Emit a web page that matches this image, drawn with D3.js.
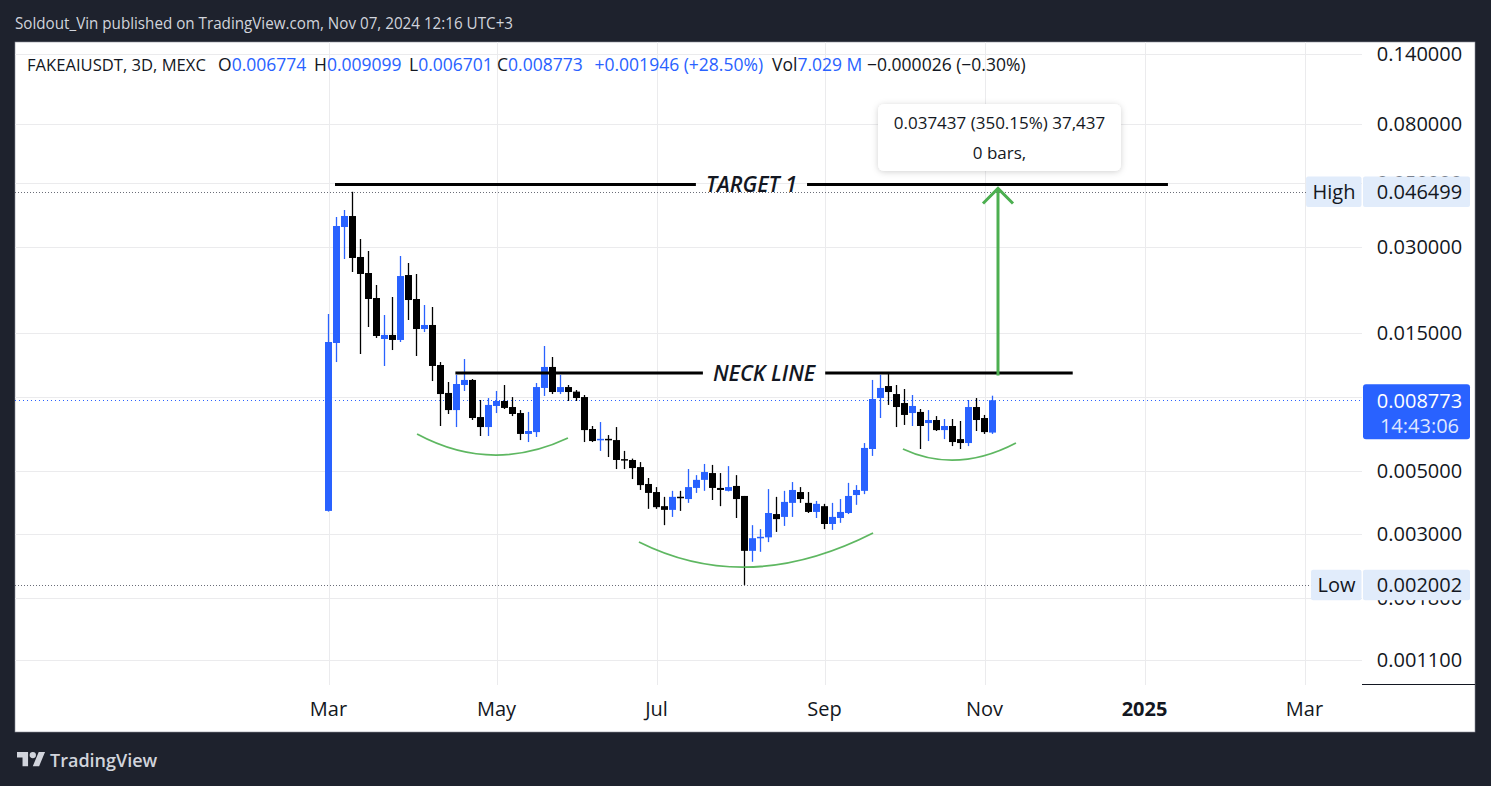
<!DOCTYPE html>
<html><head><meta charset="utf-8">
<script src="https://cdn.jsdelivr.net/npm/d3@7"></script>
<style>
html,body{margin:0;padding:0;background:#1e222d;}
svg{display:block;}
text{font-family:"Open Sans","Noto Sans",sans-serif;}
</style></head><body>
<svg id="chart" width="1491" height="786"></svg>
<script>
// ---------- DATA ----------
const barStart = "2024-03-01T00:00:00Z";
const barDays = 3;
const opens  = [0.00362,0.01387,0.03508,0.0383,0.0276,0.02428,0.01988,0.01432,0.01479,0.01421,
  0.02389,0.01972,0.01551,0.01602,0.01163,0.0093,0.00811,0.00991,0.01032,0.00767,
  0.00708,0.00838,0.00872,0.00831,0.00792,0.0067,0.0068,0.00968,0.01145,0.00937,
  0.00975,0.0094,0.009,0.00697,0.00638,0.00643,0.00638,0.00546,0.00544,0.00514,
  0.00449,0.00421,0.00376,0.00365,0.00405,0.00398,0.00435,0.00464,0.0049,0.00435,
  0.00425,0.00442,0.00408,0.00263,0.00291,0.00293,0.00353,0.00345,0.00386,0.00421,
  0.00386,0.00359,0.00376,0.00326,0.00342,0.00356,0.00411,0.00425,0.00594,0.00893,
  0.00983,0.00922,0.00858,0.00792,0.00799,0.00731,0.00749,0.00691,0.00714,0.00643,
  0.00623,0.00831,0.00761,0.006774];
const highs  = [0.01749,0.0380,0.04019,0.046499,0.03187,0.02895,0.02206,0.01735,0.02004,0.02782,
  0.0263,0.02409,0.0188,0.0185,0.01191,0.01015,0.01074,0.0122,0.0104,0.00879,
  0.00893,0.00945,0.00991,0.009,0.00811,0.00799,0.01007,0.01354,0.0124,0.01074,
  0.00991,0.00952,0.00915,0.00714,0.00737,0.00664,0.00708,0.00585,0.0055,0.00535,
  0.00471,0.00438,0.00405,0.00425,0.00425,0.00506,0.00482,0.00527,0.00523,0.0049,
  0.00518,0.00482,0.00408,0.00323,0.00313,0.00431,0.00405,0.00425,0.00456,0.00438,
  0.00421,0.00392,0.00383,0.00386,0.00398,0.00453,0.00445,0.00623,0.01032,0.01075,
  0.01082,0.00991,0.0096,0.00915,0.00818,0.00811,0.00773,0.00755,0.00755,0.00743,
  0.00879,0.00893,0.0078,0.009099];
const lows   = [0.0036,0.01191,0.02716,0.02447,0.0127,0.01576,0.01444,0.01154,0.01311,0.01398,
  0.01667,0.0125,0.01514,0.01023,0.00714,0.00786,0.00708,0.00945,0.00749,0.00659,
  0.00659,0.00792,0.00818,0.00773,0.00638,0.00628,0.00654,0.00908,0.00922,0.00922,
  0.00872,0.00872,0.00628,0.00628,0.00585,0.00557,0.00506,0.00506,0.00467,0.00428,
  0.00368,0.00368,0.00323,0.00345,0.00362,0.00386,0.00418,0.00425,0.00395,0.00376,
  0.00423,0.00342,0.002002,0.00241,0.00261,0.00282,0.00306,0.00321,0.00345,0.00386,
  0.00356,0.00342,0.00313,0.00311,0.00329,0.00353,0.0038,0.00414,0.00562,0.00761,
  0.00845,0.00708,0.0072,0.00714,0.00594,0.00633,0.00686,0.00643,0.00608,0.00594,
  0.00608,0.00686,0.0067,0.006701];
const closes = [0.01398,0.03536,0.03831,0.02738,0.02409,0.01972,0.01467,0.01479,0.01421,0.0237,
  0.01956,0.01551,0.01602,0.01154,0.00922,0.00811,0.00999,0.01032,0.00761,0.00708,
  0.00845,0.00872,0.00825,0.00786,0.0067,0.00686,0.00975,0.01145,0.00937,0.00975,
  0.00937,0.00893,0.00691,0.00633,0.00643,0.00638,0.00544,0.00543,0.0051,0.00445,
  0.00418,0.00373,0.00365,0.00405,0.00401,0.00438,0.00464,0.00494,0.00435,0.00428,
  0.00438,0.00398,0.00263,0.00291,0.00294,0.00356,0.00339,0.00389,0.00428,0.00398,
  0.00359,0.00383,0.00326,0.00345,0.00359,0.00408,0.00428,0.00599,0.00886,0.00968,
  0.00937,0.00831,0.0078,0.00838,0.00714,0.00749,0.00691,0.00714,0.00628,0.00623,
  0.00831,0.00749,0.0068,0.008773];

const priceTicks = [0.14,0.08,0.05,0.03,0.015,0.009,0.005,0.003,0.0018,0.0011];
const hiddenTickLabels = [0.009]; // fully covered by the last-price label in the reference
const monthStarts = ["2024-03-01","2024-05-01","2024-07-01","2024-09-01","2024-11-01","2025-01-01","2025-03-01"];
const monthLabels = ["Mar","May","Jul","Sep","Nov","2025","Mar"];
const monthBold   = [false,false,false,false,false,true,false];

const lastPrice = 0.008773, lastCountdown = "14:43:06";
const highPrice = 0.046499, lowPrice = 0.002002;

const headerText = "Soldout_Vin published on TradingView.com, Nov 07, 2024 12:16 UTC+3";
const symbolText = "FAKEAIUSDT, 3D, MEXC";
const ohlcLetters = ["O","H","L","C"];
const ohlcValues  = ["0.006774","0.009099","0.006701","0.008773"];
const changeText = "+0.001946 (+28.50%)";
const volLabel = "Vol", volValue = "7.029 M";
const volChange = "\u22120.000026 (\u22120.30%)";

const targetLine = {from:"2024-03-03T10:30:00Z", to:"2025-01-09T19:00:00Z", price:0.0493, label:"TARGET 1"};
const neckLine   = {from:"2024-04-17T14:00:00Z", to:"2024-12-05T02:00:00Z", price:0.0109, label:"NECK LINE"};
const arrowMove  = {date:"2024-11-07T01:30:00Z", from:0.010692, to:0.048129};
const measureLines = ["0.037437 (350.15%) 37,437","0 bars,"];
const arcs = [
  [["2024-04-03T05:00:00Z",0.006697],["2024-05-01T07:00:00Z",0.005661],["2024-05-29T19:00:00Z",0.006486]],
  [["2024-06-25T10:00:00Z",0.002822],["2024-08-06T19:00:00Z",0.002311],["2024-09-21T05:00:00Z",0.003033]],
  [["2024-10-02T10:00:00Z",0.00594],["2024-10-23T02:00:00Z",0.005439],["2024-11-13T19:00:00Z",0.006232]]
];

// ---------- LAYOUT ----------
const svg = d3.select("#chart");
const P = {x:15, y:42, w:1460, h:690};
const plotR = 1362, plotB = 685;
const UP = "#2962ff", DOWN = "#000000", GREEN = "#4caf50", TXT = "#131722";

const t0 = new Date(barStart);
const x = d3.scaleUtc()
  .domain([t0, d3.utcDay.offset(t0, 365)])
  .range([328.5, 328.5 + 365*8/3]);
const y = d3.scaleLog().domain([0.0011, 0.14]).range([659.8, 54]);

const bars = opens.map((o,i)=>({date:d3.utcDay.offset(t0, barDays*i), o, h:highs[i], l:lows[i], c:closes[i]}));

const defs = svg.append("defs");
defs.append("clipPath").attr("id","plotclip").append("rect")
  .attr("x",P.x).attr("y",P.y).attr("width",plotR-P.x).attr("height",plotB-P.y);
const f = defs.append("filter").attr("id","shadow").attr("x","-20%").attr("y","-30%").attr("width","140%").attr("height","160%");
f.append("feDropShadow").attr("dx",0).attr("dy",1).attr("stdDeviation",3).attr("flood-color","#000").attr("flood-opacity",0.18);

// panel
svg.append("rect").attr("x",P.x).attr("y",P.y).attr("width",P.w).attr("height",P.h)
  .attr("fill","#ffffff").attr("stroke","#8a8e97").attr("stroke-width",0.6);

// month tick dates = first bar on/after month start
const dayMs = 864e5;
const monthTickDates = monthStarts.map(s=>{
  const m = new Date(s+"T00:00:00Z");
  const k = Math.ceil((m - t0)/(barDays*dayMs) - 1e-9);
  return d3.utcDay.offset(t0, barDays*k);
});

// grid
const grid = svg.append("g").attr("stroke","#ebebed").attr("stroke-width",1);
priceTicks.forEach(v=>{
  const yy = Math.round(y(v))+0.5;
  grid.append("line").attr("x1",P.x).attr("x2",plotR).attr("y1",yy).attr("y2",yy);
});
monthTickDates.forEach(d=>{
  const xx = Math.round(x(d))+0.5;
  grid.append("line").attr("x1",xx).attr("x2",xx).attr("y1",P.y).attr("y2",plotB);
});

const plot = svg.append("g").attr("clip-path","url(#plotclip)");

// dotted price lines
[highPrice, lowPrice].forEach(v=>{
  const yy = Math.round(y(v))+0.5;
  plot.append("line").attr("x1",P.x).attr("x2",plotR).attr("y1",yy).attr("y2",yy)
    .attr("stroke","#6a6d78").attr("stroke-width",1).attr("stroke-dasharray","1,2");
});
{
  const yy = Math.round(y(lastPrice))+0.5;
  plot.append("line").attr("x1",P.x).attr("x2",plotR).attr("y1",yy).attr("y2",yy)
    .attr("stroke",UP).attr("stroke-width",1).attr("stroke-dasharray","1,3");
}

// candles
const cg = plot.append("g");
bars.forEach(b=>{
  const col = b.c >= b.o ? UP : DOWN;
  const cx = x(b.date);
  cg.append("line").attr("x1",cx).attr("x2",cx).attr("y1",y(b.h)).attr("y2",y(b.l))
    .attr("stroke",col).attr("stroke-width",1.3);
  const y1 = y(Math.max(b.o,b.c)), y2 = y(Math.min(b.o,b.c));
  const hgt = Math.max(1.5, y2-y1);
  cg.append("rect").attr("x",cx-3.5).attr("width",7).attr("y",hgt===1.5? (y1+y2)/2-0.75 : y1).attr("height",hgt)
    .attr("fill",col);
});

// arcs
arcs.forEach(a=>{
  const p = a.map(([d,v])=>[x(new Date(d)), y(v)]);
  const cx = 2*p[1][0] - (p[0][0]+p[2][0])/2, cy = 2*p[1][1] - (p[0][1]+p[2][1])/2;
  const path = d3.path(); path.moveTo(p[0][0],p[0][1]); path.quadraticCurveTo(cx,cy,p[2][0],p[2][1]);
  plot.append("path").attr("d",path.toString()).attr("fill","none").attr("stroke",GREEN)
    .attr("stroke-width",1.8).attr("opacity",0.9);
});

// horizontal labelled lines
function labelledLine(L, fontSize){
  const x1 = x(new Date(L.from)), x2 = x(new Date(L.to)), yy = y(L.price);
  const mid = (x1+x2)/2;
  const t = plot.append("text").attr("x",mid).attr("y",yy + fontSize*0.36).attr("text-anchor","middle")
    .attr("font-size",fontSize).attr("font-style","italic").attr("font-weight",600).attr("fill",TXT)
    .text(L.label);
  const w = t.node().getComputedTextLength();
  const gap = 10;
  plot.insert("line","text").attr("x1",x1).attr("x2",mid-w/2-gap).attr("y1",yy).attr("y2",yy)
    .attr("stroke","#000").attr("stroke-width",3);
  plot.insert("line","text").attr("x1",mid+w/2+gap).attr("x2",x2).attr("y1",yy).attr("y2",yy)
    .attr("stroke","#000").attr("stroke-width",3);
}
labelledLine(targetLine, 21.5);
labelledLine(neckLine, 21.5);

// arrow
{
  const ax = x(new Date(arrowMove.date)), ya = y(arrowMove.from), yb = y(arrowMove.to);
  plot.append("line").attr("x1",ax).attr("x2",ax).attr("y1",ya).attr("y2",yb+1)
    .attr("stroke",GREEN).attr("stroke-width",3);
  plot.append("path").attr("d",`M${ax-15},${yb+16}L${ax},${yb+1}L${ax+15},${yb+16}`)
    .attr("fill","none").attr("stroke",GREEN).attr("stroke-width",3).attr("stroke-linejoin","miter");

  // measurement tooltip
  const tg = plot.append("g");
  const box = tg.append("rect").attr("fill","#fff").attr("rx",6).attr("filter","url(#shadow)");
  const t1 = tg.append("text").attr("x",ax+1.5).attr("y",129).attr("text-anchor","middle")
    .attr("font-size",17).attr("fill",TXT).text(measureLines[0]);
  tg.append("text").attr("x",ax+1.5).attr("y",159).attr("text-anchor","middle")
    .attr("font-size",17).attr("fill",TXT).text(measureLines[1]);
  const w = t1.node().getComputedTextLength();
  const bw = Math.max(243, w+28);
  box.attr("x",ax+1.5-bw/2).attr("y",104).attr("width",bw).attr("height",67);
}

// ---------- PRICE AXIS ----------
const ax = svg.append("g");
priceTicks.filter(v=>!hiddenTickLabels.includes(v)).forEach(v=>{
  ax.append("text").attr("x",1419.5).attr("y",y(v)+7).attr("text-anchor","middle")
    .attr("font-size",20).attr("fill",TXT).text(v.toFixed(6));
});
ax.append("line").attr("x1",plotR).attr("x2",P.x+P.w).attr("y1",684.5).attr("y2",684.5)
  .attr("stroke",TXT).attr("stroke-width",1);

function hlLabel(name, v){
  const yy = y(v);
  const t = ax.append("text").attr("font-size",20).attr("fill",TXT).attr("text-anchor","middle").text(name);
  const w = t.node().getComputedTextLength() + 13;
  ax.append("rect").attr("x",plotR-w).attr("y",yy-15.3).attr("width",w-0.5).attr("height",30.6)
    .attr("fill","#e1ecfb").attr("rx",2);
  t.attr("x",plotR - w/2).attr("y",yy+7).raise();
  ax.append("rect").attr("x",1363).attr("y",yy-15.3).attr("width",107).attr("height",30.6)
    .attr("fill","#e1ecfb").attr("rx",2);
  ax.append("text").attr("x",1419.5).attr("y",yy+7).attr("text-anchor","middle")
    .attr("font-size",20).attr("fill",TXT).text(v.toFixed(6));
}
hlLabel("High", highPrice);
hlLabel("Low", lowPrice);

{
  const yy = y(lastPrice);
  ax.append("rect").attr("x",1363).attr("y",yy-16).attr("width",107).attr("height",55)
    .attr("fill",UP).attr("rx",3);
  ax.append("text").attr("x",1419.5).attr("y",yy+7.5).attr("text-anchor","middle")
    .attr("font-size",20).attr("fill","#ffffff").text(lastPrice.toFixed(6));
  ax.append("text").attr("x",1419.5).attr("y",yy+32.5).attr("text-anchor","middle")
    .attr("font-size",20).attr("fill","#dfe7ff").text(lastCountdown);
}

// ---------- TIME AXIS ----------
monthTickDates.forEach((d,i)=>{
  svg.append("text").attr("x",x(d)).attr("y",716).attr("text-anchor","middle")
    .attr("font-size",20).attr("font-weight",monthBold[i]?700:400).attr("fill",TXT).text(monthLabels[i]);
});

// ---------- LEGEND ----------
const lg = svg.append("g").attr("font-size",17.5);
const legY = 70.5;
lg.append("text").attr("x",27).attr("y",legY).attr("fill",TXT).attr("font-size",16.6).text(symbolText);
const letterX = [218, 314, 409, 497];
ohlcLetters.forEach((l,i)=>{
  const t = lg.append("text").attr("x",letterX[i]).attr("y",legY).attr("fill",TXT);
  t.append("tspan").text(l);
  t.append("tspan").attr("fill",UP).text(ohlcValues[i]);
});
lg.append("text").attr("x",594.5).attr("y",legY).attr("fill",UP).text(changeText);
{
  const t = lg.append("text").attr("x",772).attr("y",legY).attr("fill",TXT);
  t.append("tspan").text(volLabel);
  t.append("tspan").attr("fill",UP).text(volValue);
}
lg.append("text").attr("x",867).attr("y",legY).attr("fill",TXT).text(volChange);

// ---------- HEADER / FOOTER ----------
svg.append("text").attr("x",15).attr("y",29).attr("font-size",16)
  .attr("textLength",498).attr("lengthAdjust","spacingAndGlyphs")
  .attr("fill","#d1d4dc").text(headerText);

const logo = svg.append("g").attr("transform","translate(17,748.8) scale(0.79)").attr("fill","#d1d4dc");
logo.append("path").attr("d","M14 22H7V11H0V4h14v18zM28 22h-8l7.5-18h8L28 22z");
logo.append("circle").attr("cx",20).attr("cy",8).attr("r",4);
svg.append("text").attr("x",50).attr("y",767).attr("font-size",18).attr("font-weight",600)
  .attr("fill","#d1d4dc").text("TradingView");
</script>
</body></html>
